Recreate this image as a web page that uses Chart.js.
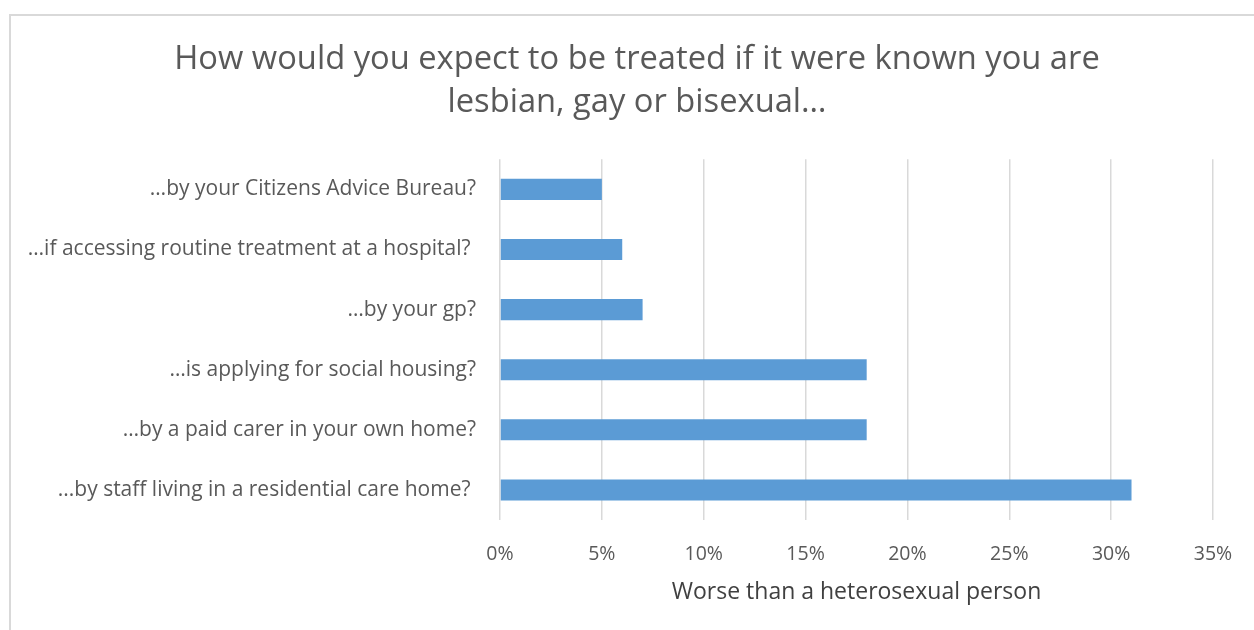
<!DOCTYPE html>
<html>
<head>
<meta charset="utf-8">
<script src="https://cdn.jsdelivr.net/npm/chart.js@4"></script>
<style>
  html, body { margin: 0; padding: 0; background: #fff; overflow: hidden; }
  #wrap { position: relative; width: 1254px; height: 630px; }
  #frame { position: absolute; left: 9px; top: 14px; width: 1300px; height: 700px; border: 2px solid #d9d9d9; box-sizing: border-box; }
  canvas { position: absolute; left: 0; top: 0; }
</style>
</head>
<body>
<div id="wrap">
  <div id="frame"></div>
  <canvas id="c" width="1254" height="630"></canvas>
</div>
<script>
const categories = [
  "\u2026by your Citizens Advice Bureau?",
  "\u2026if accessing routine treatment at a hospital? ",
  "\u2026by your gp?",
  "\u2026is applying for social housing?",
  "\u2026by a paid carer in your own home?",
  "...by staff living in a residential care home? "
];
const values = [5, 6, 7, 18, 18, 31];
const titleLines = ["How would you expect to be treated if it were known you are", "lesbian, gay or bisexual\u2026"];
const axisTitle = "Worse than a heterosexual person";

const FONT = "Open Sans, Liberation Sans, sans-serif";

new Chart(document.getElementById('c'), {
  type: 'bar',
  data: {
    labels: categories,
    datasets: [{
      data: values,
      backgroundColor: '#5b9bd5',
      borderWidth: 0,
      barPercentage: 0.7,
      categoryPercentage: 0.5
    }]
  },
  options: {
    indexAxis: 'y',
    responsive: false,
    animation: false,
    layout: { padding: { left: 20, right: 0, top: 0, bottom: 24 } },
    plugins: {
      legend: { display: false },
      tooltip: { enabled: false },
      title: {
        display: true,
        text: titleLines,
        color: '#595959',
        font: { family: FONT, size: 32.7, weight: 'normal', lineHeight: 1.32 },
        padding: { top: 38, bottom: 35 }
      }
    },
    scales: {
      x: {
        min: 0, max: 35,
        ticks: {
          stepSize: 5,
          callback: v => v + '%',
          color: '#595959',
          font: { family: FONT, size: 19.5 },
          padding: 23,
          maxRotation: 0
        },
        grid: { color: '#d9d9d9', lineWidth: 1.5, drawTicks: false },
        border: { display: false },
        title: {
          display: true,
          text: axisTitle,
          color: '#404040',
          font: { family: FONT, size: 23 },
          padding: { top: 10, bottom: 0 }
        },
        afterFit: s => { s.height = 86; s.paddingRight = 41; }
      },
      y: {
        ticks: {
          color: '#595959',
          font: { family: FONT, size: 21 },
          padding: 24
        },
        grid: { display: false, drawTicks: false },
        border: { display: false },
        afterFit: s => { s.width = 480; }
      }
    }
  }
});
</script>
</body>
</html>
